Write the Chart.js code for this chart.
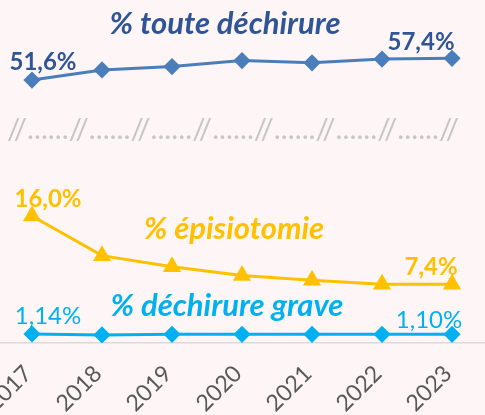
<!DOCTYPE html>
<html>
<head>
<meta charset="utf-8">
<script src="https://cdn.jsdelivr.net/npm/chart.js@4/dist/chart.umd.min.js"></script>
<style>
  html, body { margin: 0; padding: 0; background: #FEF6F6; }
  #wrap { width: 485px; height: 415px; }
</style>
</head>
<body>
<div id="wrap"><canvas id="c" width="485" height="415"></canvas></div>
<script>
const years = [2017, 2018, 2019, 2020, 2021, 2022, 2023];
const tickLabels = ['2017', '2018', '2019', '2020', '2021', '2022', '2023'];
const tearAll = [51.6, 54.3, 55.2, 56.8, 56.2, 57.2, 57.4];
const episiotomy = [16.0, 11.0, 9.6, 8.5, 7.9, 7.4, 7.4];
const tearSevere = [1.14, 1.02, 1.10, 1.10, 1.10, 1.10, 1.10];
const seriesNames = ['% toute déchirure', '% épisiotomie', '% déchirure grave'];
const breakText = '//......//......//......//......//......//......//......//';

const fmt = (v, d) => v.toFixed(d).replace('.', ',') + '%';
const pts = arr => arr.map((v, i) => ({ x: years[i], y: v }));

const textPlugin = {
  id: 'texts',
  beforeDatasetsDraw(chart) {
    const ctx = chart.ctx;
    ctx.save();
    ctx.font = '28px Lato';
    ctx.fillStyle = '#C6C6C6';
    ctx.textBaseline = 'middle';
    ctx.textAlign = 'left';
    const w = ctx.measureText(breakText).width;
    const target = 452;
    ctx.translate(7, 130);
    ctx.scale(target / w, 1);
    ctx.fillText(breakText, 0, 0);
    ctx.restore();
  },
  afterDatasetsDraw(chart) {
    const ctx = chart.ctx;
    ctx.save();
    ctx.textBaseline = 'middle';
    ctx.textAlign = 'center';
    ctx.font = 'italic bold 31px Lato';
    ctx.fillStyle = '#2F5597';
    ctx.fillText(seriesNames[0], 225, 24);
    ctx.fillStyle = '#FFC000';
    ctx.fillText(seriesNames[1], 234, 229);
    ctx.fillStyle = '#00B0F0';
    ctx.fillText(seriesNames[2], 227, 306);

    const m0 = chart.getDatasetMeta(0).data;
    const m1 = chart.getDatasetMeta(1).data;
    const m2 = chart.getDatasetMeta(2).data;
    const n = years.length - 1;
    ctx.font = 'bold 24px Lato';
    ctx.fillStyle = '#2F5597';
    ctx.fillText(fmt(tearAll[0], 1), m0[0].x + 11, m0[0].y - 18);
    ctx.fillText(fmt(tearAll[n], 1), m0[n].x - 31, m0[n].y - 16);
    ctx.fillStyle = '#FFC000';
    ctx.fillText(fmt(episiotomy[0], 1), m1[0].x + 16, m1[0].y - 17);
    ctx.fillText(fmt(episiotomy[n], 1), m1[n].x - 21, m1[n].y - 17);
    ctx.font = '24px Lato';
    ctx.fillStyle = '#00B0F0';
    ctx.fillText(fmt(tearSevere[0], 2), m2[0].x + 16, m2[0].y - 18);
    ctx.fillText(fmt(tearSevere[n], 2), m2[n].x - 23, m2[n].y - 14);
    ctx.restore();
  }
};

new Chart(document.getElementById('c'), {
  type: 'line',
  data: {
    datasets: [
      {
        label: seriesNames[0], data: pts(tearAll), yAxisID: 'y2',
        borderColor: '#4A7EBB', backgroundColor: '#4A7EBB', borderWidth: 3,
        pointStyle: 'rectRot', pointRadius: 6.5, pointHoverRadius: 6.5, tension: 0
      },
      {
        label: seriesNames[1], data: pts(episiotomy), yAxisID: 'y',
        borderColor: '#FFC000', backgroundColor: '#FFC000', borderWidth: 3,
        pointStyle: 'triangle', pointRadius: 7.5, pointHoverRadius: 7.5, tension: 0
      },
      {
        label: seriesNames[2], data: pts(tearSevere), yAxisID: 'y',
        borderColor: '#00B0F0', backgroundColor: '#00B0F0', borderWidth: 3,
        pointStyle: 'rectRot', pointRadius: 6.5, pointHoverRadius: 6.5, tension: 0
      }
    ]
  },
  options: {
    responsive: false,
    animation: false,
    layout: { padding: 0, autoPadding: false },
    plugins: { legend: { display: false }, tooltip: { enabled: false } },
    scales: {
      x: {
        type: 'linear',
        min: 2016.543, max: 2023.471,
        grid: { display: false, drawTicks: false },
        border: { display: true, color: '#D9D9D9', width: 1.5 },
        ticks: {
          stepSize: 1, includeBounds: false, autoSkip: false,
          minRotation: 45, maxRotation: 45, padding: 17, labelOffset: -4,
          color: '#595959', font: { family: 'Lato', size: 23 },
          callback: v => { const i = years.indexOf(v); return i >= 0 ? tickLabels[i] : ''; }
        },
        afterFit: s => { s.height = 72; s.paddingLeft = 0; s.paddingRight = 0; }
      },
      y: { display: false, min: 0, max: 43.2 },
      y2: { display: false, min: -18.7, max: 73.0 }
    }
  },
  plugins: [textPlugin]
});
</script>
</body>
</html>
